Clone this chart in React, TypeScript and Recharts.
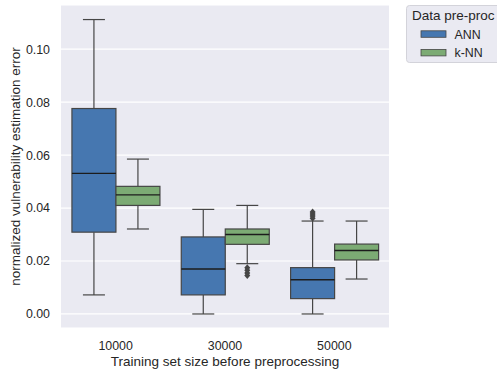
import { ComposedChart, Bar, XAxis, YAxis, CartesianGrid, Label } from "recharts";

const categories = ["10000", "30000", "50000"];

const annMin = [0.0072, 0.0, 0.0];
const annQ1 = [0.0309, 0.0072, 0.0058];
const annMedian = [0.0531, 0.017, 0.0129];
const annQ3 = [0.0776, 0.0291, 0.0175];
const annMax = [0.1112, 0.0395, 0.0351];
const annOutliers = [[], [], [0.0385, 0.0378, 0.037, 0.0362]];

const knnMin = [0.0321, 0.019, 0.0132];
const knnQ1 = [0.041, 0.0263, 0.0204];
const knnMedian = [0.045, 0.03, 0.024];
const knnQ3 = [0.0482, 0.0321, 0.0264];
const knnMax = [0.0585, 0.041, 0.0351];
const knnOutliers = [[], [0.0175, 0.0165, 0.0155, 0.0145], []];

const yTicks = [0, 0.02, 0.04, 0.06, 0.08, 0.1];

const ANN_COLOR = "#4677b0";
const KNN_COLOR = "#7cab74";
const EDGE = "#464646";
const TEXT = "#262626";
const FONT = "'Liberation Sans', Arial, sans-serif";

const data = categories.map((c, i) => ({
  size: c,
  ann: { min: annMin[i], q1: annQ1[i], med: annMedian[i], q3: annQ3[i], max: annMax[i], out: annOutliers[i] },
  knn: { min: knnMin[i], q1: knnQ1[i], med: knnMedian[i], q3: knnQ3[i], max: knnMax[i], out: knnOutliers[i] },
}));

type Stats = { min: number; q1: number; med: number; q3: number; max: number; out: number[] };

// draws a box + whiskers inside the range bar [min, max]
function makeBoxShape(key: "ann" | "knn", fill: string) {
  return (props: any) => {
    const { x, y, width, height, payload } = props;
    const s: Stats = payload[key];
    const top = Math.min(y, y + height);
    const bottom = Math.max(y, y + height);
    const py = (v: number) => bottom - ((v - s.min) / (s.max - s.min)) * (bottom - top);
    const cx = x + width / 2;
    const capL = x + width / 4;
    const capR = x + (width * 3) / 4;
    return (
      <g>
        <line x1={cx} x2={cx} y1={py(s.max)} y2={py(s.q3)} stroke={EDGE} strokeWidth={1.2} />
        <line x1={cx} x2={cx} y1={py(s.q1)} y2={py(s.min)} stroke={EDGE} strokeWidth={1.2} />
        <line x1={capL} x2={capR} y1={py(s.max)} y2={py(s.max)} stroke={EDGE} strokeWidth={1.2} />
        <line x1={capL} x2={capR} y1={py(s.min)} y2={py(s.min)} stroke={EDGE} strokeWidth={1.2} />
        <rect
          x={x}
          y={py(s.q3)}
          width={width}
          height={py(s.q1) - py(s.q3)}
          fill={fill}
          stroke={EDGE}
          strokeWidth={1.2}
        />
        <line x1={x} x2={x + width} y1={py(s.med)} y2={py(s.med)} stroke="#1c1c1c" strokeWidth={1.4} />
        {s.out.map((o, j) => {
          const oy = py(o);
          return (
            <polygon
              key={j}
              points={`${cx},${oy - 3.5} ${cx + 3},${oy} ${cx},${oy + 3.5} ${cx - 3},${oy}`}
              fill={EDGE}
            />
          );
        })}
      </g>
    );
  };
}

function LegendBox() {
  const items = [
    { name: "ANN", color: ANN_COLOR },
    { name: "k-NN", color: KNN_COLOR },
  ];
  return (
    <svg
      width={497}
      height={374}
      style={{ position: "absolute", left: 0, top: 0, pointerEvents: "none" }}
    >
      <rect x={406.5} y={5.5} width={100} height={57} rx={3} fill="#eaeaf2" stroke="#d3d3da" />
      <text x={412} y={20} style={{ fontSize: 13.5, fill: TEXT, fontFamily: FONT }}>
        Data pre-proc
      </text>
      {items.map((it, i) => (
        <g key={it.name}>
          <rect
            x={421}
            y={30.8 + i * 18.6}
            width={25}
            height={6.5}
            fill={it.color}
            stroke={EDGE}
            strokeWidth={0.8}
          />
          <text x={454.5} y={38.5 + i * 18.6} style={{ fontSize: 12.4, fill: TEXT, fontFamily: FONT }}>
            {it.name}
          </text>
        </g>
      ))}
    </svg>
  );
}

export default function App() {
  return (
    <div style={{ position: "absolute", left: 0, top: 0, width: 497, height: 374, background: "#fff", overflow: "hidden" }}>
      <ComposedChart
        width={497}
        height={374}
        data={data}
        margin={{ top: 5, right: 108, left: 0, bottom: 0 }}
        barCategoryGap="10%"
        barGap={0}
      >
        <CartesianGrid fill="#eaeaf2" stroke="#ffffff" strokeWidth={1.2} vertical={false} />
        <XAxis
          dataKey="size"
          height={46}
          axisLine={false}
          tickLine={false}
          tickMargin={7}
          tick={{ fontSize: 12.4, fill: TEXT, fontFamily: FONT }}
        >
          <Label
            value="Training set size before preprocessing"
            position="insideBottom"
            offset={8}
            style={{ fontSize: 13.5, fill: TEXT, fontFamily: FONT }}
          />
        </XAxis>
        <YAxis
          width={61}
          domain={[-0.0053, 0.1167]}
          ticks={yTicks}
          axisLine={false}
          tickLine={false}
          tickMargin={5}
          tickFormatter={(v: number) => v.toFixed(2)}
          tick={{ fontSize: 12.4, fill: TEXT, fontFamily: FONT }}
          allowDataOverflow
        >
          <Label
            content={(p: any) => {
              const vb = p.viewBox;
              const cx = 15;
              const cy = vb.y + vb.height / 2;
              return (
                <text
                  x={cx}
                  y={cy}
                  transform={`rotate(-90 ${cx} ${cy})`}
                  textAnchor="middle"
                  dominantBaseline="central"
                  style={{ fontSize: 13.5, fill: TEXT, fontFamily: FONT }}
                >
                  normalized vulnerability estimation error
                </text>
              );
            }}
          />
        </YAxis>
        <Bar
          dataKey={(d: any) => [d.ann.min, d.ann.max]}
          name="ANN"
          fill={ANN_COLOR}
          shape={makeBoxShape("ann", ANN_COLOR)}
          isAnimationActive={false}
        />
        <Bar
          dataKey={(d: any) => [d.knn.min, d.knn.max]}
          name="k-NN"
          fill={KNN_COLOR}
          shape={makeBoxShape("knn", KNN_COLOR)}
          isAnimationActive={false}
        />
      </ComposedChart>
      <LegendBox />
    </div>
  );
}
